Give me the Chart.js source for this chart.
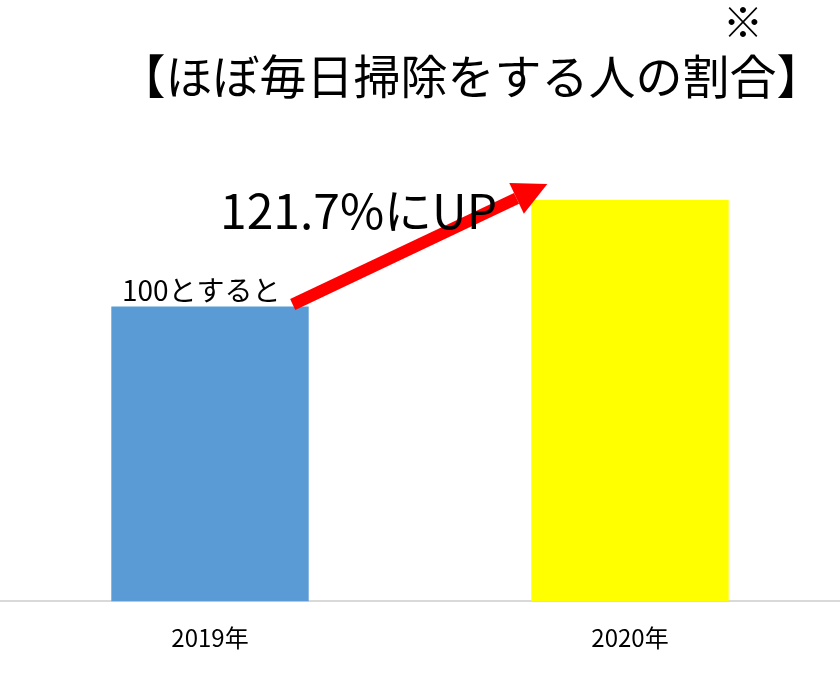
<!DOCTYPE html>
<html>
<head>
<meta charset="utf-8">
<script src="https://cdn.jsdelivr.net/npm/chart.js@4"></script>
<style>
  html, body { margin: 0; padding: 0; background: #fff; }
  #wrap { width: 840px; height: 683px; }
</style>
</head>
<body>
<div id="wrap"><canvas id="grafico"></canvas></div>
<script>
// dados do gráfico
var anos = ['2019年', '2020年'];
var valores = [100, 121.7];
var cores = ['#5B9BD5', '#FFFF00'];

var titulo = '【ほぼ毎日掃除をする人の割合】';
var nota = '※';
var textoBase = '100とすると';
var textoAumento = '121.7%にUP';

var fonte = '"Noto Sans CJK JP", "Noto Sans", sans-serif';

// desenha título, textos e a seta vermelha
var extras = {
    id: 'extras',
    afterDatasetsDraw: function(chart) {
        var ctx = chart.ctx;
        var barras = chart.getDatasetMeta(0).data;
        var b0 = barras[0];
        var b1 = barras[1];

        ctx.save();
        ctx.fillStyle = '#000';
        ctx.textBaseline = 'middle';

        ctx.font = '47px ' + fonte;
        ctx.textAlign = 'center';
        ctx.fillText(titulo, 471, 76);

        ctx.font = '40px ' + fonte;
        ctx.fillText(nota, 743, 22);

        // texto em cima da barra de 2019
        ctx.font = '28px ' + fonte;
        ctx.textAlign = 'left';
        ctx.fillText(textoBase, 122, b0.y - 16);

        // seta
        var x1 = b0.x + b0.width / 2 - 16, y1 = b0.y - 2;
        var x2 = b1.x - b1.width / 2 + 16, y2 = b1.y - 16;
        var ang = Math.atan2(y2 - y1, x2 - x1);
        var cab = 34;
        var xb = x2 - cab * Math.cos(ang), yb = y2 - cab * Math.sin(ang);
        ctx.strokeStyle = '#FF0000';
        ctx.lineWidth = 12;
        ctx.beginPath();
        ctx.moveTo(x1, y1);
        ctx.lineTo(xb, yb);
        ctx.stroke();
        ctx.fillStyle = '#FF0000';
        ctx.beginPath();
        ctx.moveTo(x2, y2);
        ctx.lineTo(xb + 17 * Math.sin(ang), yb - 17 * Math.cos(ang));
        ctx.lineTo(xb - 17 * Math.sin(ang), yb + 17 * Math.cos(ang));
        ctx.closePath();
        ctx.fill();

        // texto do aumento
        ctx.fillStyle = '#000';
        ctx.font = '48px ' + fonte;
        ctx.textAlign = 'left';
        ctx.fillText(textoAumento, 220, 211);

        ctx.restore();
    }
};

new Chart(document.getElementById('grafico'), {
    type: 'bar',
    data: {
        labels: anos,
        datasets: [{
            data: valores,
            backgroundColor: cores,
            borderWidth: 0,
            categoryPercentage: 1,
            barPercentage: 0.47
        }]
    },
    options: {
        responsive: true,
        maintainAspectRatio: false,
        animation: false,
        layout: { padding: { top: 110, bottom: 9, left: 0, right: 0 } },
        plugins: {
            legend: { display: false },
            tooltip: { enabled: false }
        },
        scales: {
            x: {
                grid: { display: false, drawTicks: false },
                border: { display: true, color: '#D9D9D9', width: 2 },
                ticks: { color: '#000', padding: 22, font: { family: fonte, size: 24 } }
            },
            y: {
                display: false,
                min: 40,
                max: 140
            }
        }
    },
    plugins: [extras]
});
</script>
</body>
</html>
